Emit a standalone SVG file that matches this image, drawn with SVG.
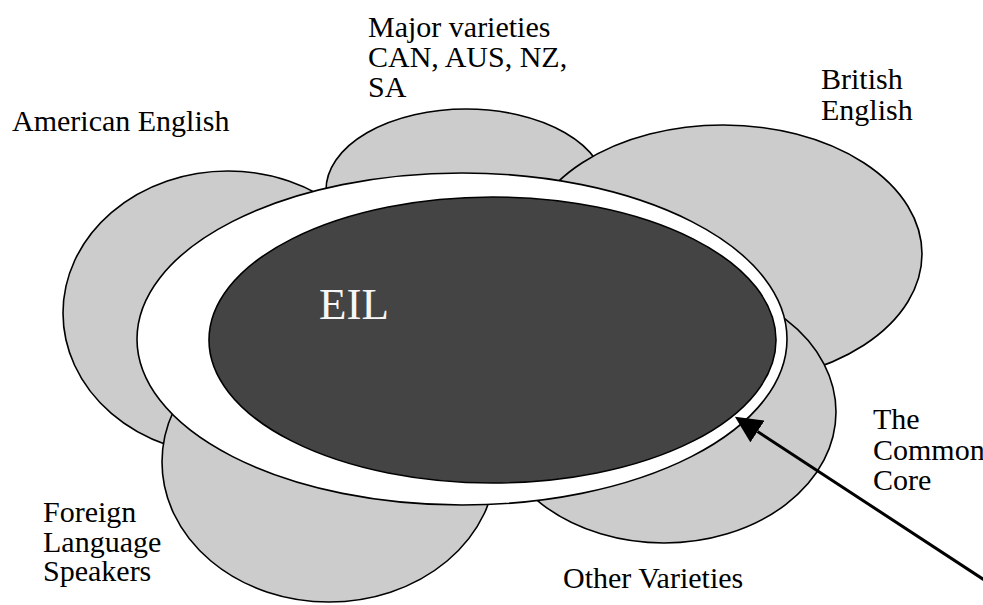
<svg xmlns="http://www.w3.org/2000/svg" width="983" height="605" viewBox="0 0 983 605">
  <style>
    .variety { fill: #cccccc; stroke: #000000; stroke-width: 1.6; }
    .ring { fill: #ffffff; stroke: #000000; stroke-width: 1.6; }
    .core { fill: #444444; stroke: #000000; stroke-width: 1.6; }
    .label { font-family: "Liberation Serif", "Times New Roman", serif; font-size: 30px; fill: #000000; }
    .title { font-family: "Liberation Serif", "Times New Roman", serif; font-size: 45px; fill: #f6f6f6; }
    .pointer { fill: none; stroke: #000000; stroke-width: 3; }
  </style>
  <defs>
    <marker id="arrowhead" viewBox="0 0 27 26" refX="0" refY="13" markerWidth="27" markerHeight="26" markerUnits="userSpaceOnUse" orient="auto">
      <path d="M0,0 L27,13 L0,26 z" fill="#000000"/>
    </marker>
  </defs>

  <rect width="983" height="605" fill="#ffffff"/>

  <!-- surrounding varieties of English -->
  <g id="american-english">
    <ellipse class="variety" cx="228" cy="313" rx="165" ry="142"/>
  </g>
  <g id="major-varieties">
    <ellipse class="variety" cx="466" cy="190" rx="140" ry="81"/>
  </g>
  <g id="british-english">
    <ellipse class="variety" cx="723" cy="254" rx="199" ry="129"/>
  </g>
  <g id="other-varieties">
    <ellipse class="variety" cx="664" cy="412" rx="172" ry="131"/>
  </g>
  <g id="foreign-language-speakers">
    <ellipse class="variety" cx="329" cy="462" rx="167" ry="140"/>
  </g>

  <!-- common core ring and the EIL centre -->
  <g id="common-core">
    <ellipse class="ring" cx="462" cy="339" rx="325" ry="166"/>
  </g>
  <g id="eil">
    <ellipse class="core" cx="492.5" cy="340" rx="283.5" ry="143"/>
    <text class="title" x="319" y="319">EIL</text>
  </g>

  <!-- labels -->
  <g id="labels">
    <text class="label" x="12" y="131">American English</text>
    <text class="label" x="368" y="37">Major varieties</text>
    <text class="label" x="368" y="67">CAN, AUS, NZ,</text>
    <text class="label" x="368" y="97">SA</text>
    <text class="label" x="821" y="89">British</text>
    <text class="label" x="821" y="120">English</text>
    <text class="label" x="873" y="429">The</text>
    <text class="label" x="873" y="460">Common</text>
    <text class="label" x="873" y="490">Core</text>
    <text class="label" x="43" y="522">Foreign</text>
    <text class="label" x="43" y="552">Language</text>
    <text class="label" x="43" y="581">Speakers</text>
    <text class="label" x="563" y="588">Other Varieties</text>
  </g>

  <!-- pointer to the common core -->
  <g id="connectors">
    <line class="pointer" x1="992" y1="585" x2="757.5" y2="431.5" marker-end="url(#arrowhead)"/>
  </g>
</svg>
